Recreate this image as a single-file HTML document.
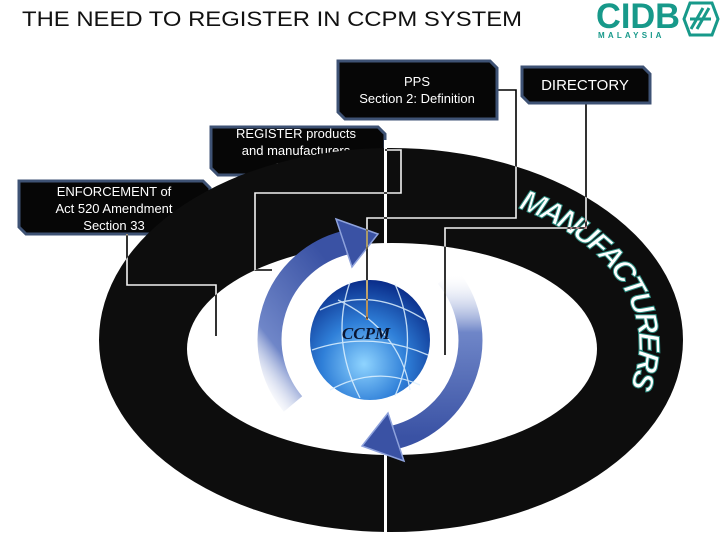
<!DOCTYPE html>
<html><head><meta charset="utf-8"><style>
html,body{margin:0;padding:0;background:#fff;}
body{width:720px;height:540px;overflow:hidden;position:relative;font-family:"Liberation Sans",sans-serif;}
</style></head><body>
<svg width="720" height="540" viewBox="0 0 720 540" xmlns="http://www.w3.org/2000/svg" style="position:absolute;left:0;top:0">
<defs>
<radialGradient id="globe" cx="0.45" cy="0.7" r="0.7">
<stop offset="0" stop-color="#8fd4ff"/><stop offset="0.5" stop-color="#2f7fd8"/><stop offset="1" stop-color="#0a2d8a"/>
</radialGradient>
<linearGradient id="la" x1="0" y1="1" x2="0.6" y2="0">
<stop offset="0" stop-color="#ffffff" stop-opacity="0.2"/><stop offset="0.3" stop-color="#6f86c8"/><stop offset="1" stop-color="#3a52a4"/>
</linearGradient>
<linearGradient id="ra" x1="0.5" y1="0" x2="0.5" y2="1">
<stop offset="0" stop-color="#ffffff" stop-opacity="0.2"/><stop offset="0.35" stop-color="#6f86c8"/><stop offset="1" stop-color="#3a52a4"/>
</linearGradient>
<path id="mpath" d="M 470 195 A 232 155 0 0 1 600 430"/>
</defs>

<!-- title -->
<text x="22" y="26" font-family="Liberation Sans, sans-serif" font-size="21" fill="#111" textLength="500" lengthAdjust="spacingAndGlyphs">THE NEED TO REGISTER IN CCPM SYSTEM</text>
<!-- logo -->
<text x="596" y="28" font-family="Liberation Sans, sans-serif" font-weight="bold" font-size="35" fill="#17998a" textLength="84" lengthAdjust="spacingAndGlyphs">CIDB</text>
<text x="598" y="38" font-family="Liberation Sans, sans-serif" font-weight="bold" font-size="8" fill="#17998a" letter-spacing="3.2">MALAYSIA</text>
<g fill="none" stroke="#17998a" stroke-width="3">
<polygon points="690,3 712,3 718,19 712,35 690,35 684,19"/>
<path d="M691 29 L703 8 M697 29 L709 8 M690 19 L711 19"/>
</g>

<!-- boxes behind ring -->
<g fill="#060606" stroke="#3e5274" stroke-width="3">
<polygon points="211,127 378,127 385,134 385,175 218,175 211,168"/>
<polygon points="19,181 203,181 210,188 210,234 26,234 19,227"/>
</g>
<g font-family="Liberation Sans, sans-serif" font-size="13" fill="#fff" text-anchor="middle">
<text x="296" y="138">REGISTER products</text>
<text x="296" y="155">and manufacturers</text>
<text x="296" y="172">Section</text>
<text x="114" y="196">ENFORCEMENT of</text>
<text x="114" y="213">Act 520 Amendment</text>
<text x="114" y="230">Section  33</text>
</g>

<!-- ring -->
<ellipse cx="391" cy="340" rx="292" ry="192" fill="#0d0d0d"/>
<ellipse cx="392" cy="349" rx="205" ry="106" fill="#fff"/>
<rect x="384" y="140" width="3" height="400" fill="#fff"/>

<!-- MANUFACTURERS -->
<text font-family="Liberation Sans, sans-serif" font-weight="bold" font-style="italic" font-size="30" fill="#fff" stroke="#2d8c80" stroke-width="1" letter-spacing="-3"><textPath href="#mpath" startOffset="50">MANUFACTURERS</textPath></text>

<!-- arrows -->
<path d="M293 404 A100 100 0 0 1 344 243" fill="none" stroke="url(#la)" stroke-width="24"/>
<polygon points="336,219 378,234 352,267" fill="#3a52a4" stroke="#8ea2dc" stroke-width="1.5"/>
<path d="M447 276 A100 100 0 0 1 396 437" fill="none" stroke="url(#ra)" stroke-width="24"/>
<polygon points="404,461 362,446 388,413" fill="#3a52a4" stroke="#8ea2dc" stroke-width="1.5"/>

<!-- globe -->
<ellipse cx="370" cy="345" rx="40" ry="10" fill="#888" opacity="0.25"/>
<circle cx="370" cy="340" r="60" fill="url(#globe)"/>
<g fill="none" stroke="#dff2ff" stroke-width="1.3" opacity="0.85">
<path d="M320 310 Q370 285 425 320"/><path d="M312 350 Q370 330 428 355"/>
<path d="M330 390 Q375 365 420 385"/><path d="M350 282 Q330 340 360 398"/>
<path d="M395 284 Q420 340 395 396"/><path d="M338 300 Q400 330 410 390"/>
</g>
<text x="366" y="339" text-anchor="middle" font-family="Liberation Serif, serif" font-weight="bold" font-style="italic" font-size="17" fill="#0a1530">CCPM</text>

<!-- connectors -->
<g fill="none" stroke="#fff" stroke-width="1.6" style="mix-blend-mode:difference">
<path d="M497 90 H516 V218 H367 V320"/>
<path d="M586 103 V228 H445 V355"/>
<path d="M385 150 H401 V193 H255 V270 H272"/>
<path d="M127 234 V285 H216 V336"/>
</g>

<!-- boxes on top -->
<g fill="#060606" stroke="#3e5274" stroke-width="3">
<polygon points="338,61 490,61 497,68 497,119 345,119 338,112"/>
<polygon points="522,67 643,67 650,74 650,103 529,103 522,96"/>
</g>
<g font-family="Liberation Sans, sans-serif" font-size="13" fill="#fff" text-anchor="middle">
<text x="417" y="86">PPS</text>
<text x="417" y="103">Section 2: Definition</text>
<text x="585" y="90" font-size="15">DIRECTORY</text>
</g>
</svg>
</body></html>
